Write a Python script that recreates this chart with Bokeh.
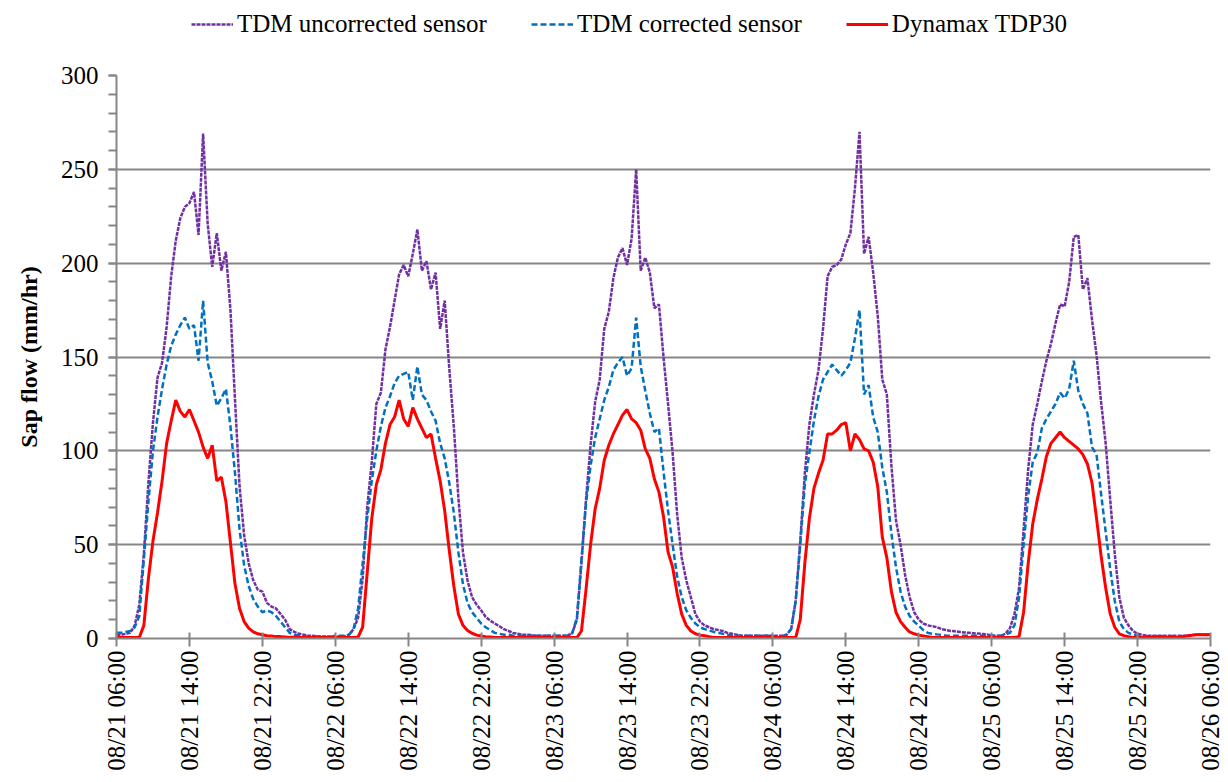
import numpy as np
from bokeh.plotting import figure
from bokeh.layouts import column
from bokeh.models import Range1d, FixedTicker, SingleIntervalTicker, Legend, LegendItem
from bokeh.embed import file_html
from bokeh.resources import INLINE

# Half-hourly samples, hours elapsed since 08/21 06:00 (five days)
hours = np.arange(0, 120.5, 0.5)

# Sap flow (mm/hr), one line per day starting at 06:00, plus the closing sample
tdm_uncorrected = (
    [2, 2, 2.5, 3, 7, 18, 45, 83, 115, 139, 147, 166, 193, 212, 224, 230, 232, 238, 215, 269, 221, 198, 216, 196,
     206, 175, 127, 81, 55, 40, 31, 26, 25, 19, 17, 16, 13, 10, 5, 3.5, 2.5, 2, 1.5, 1.5, 1.2, 1, 1, 1]
    + [1, 1, 1, 2, 5, 11, 32, 70, 94, 125, 131, 154, 166, 180, 194, 199, 193, 205, 218, 196, 201, 186, 195, 165,
       180, 144, 113, 75, 46, 31, 22, 18, 15, 11.5, 9.5, 8, 6.5, 5, 4, 3, 2.5, 2, 2, 1.8, 1.5, 1.5, 1.5, 1.5]
    + [1.5, 1.5, 1.5, 1.5, 3, 10, 40, 74, 103, 126, 138, 165, 174, 192, 203, 208, 199, 213, 250, 196, 203, 195, 176, 178,
       150, 125, 99, 66, 43, 31, 22, 13, 9, 7, 6, 5, 4.5, 4, 3, 2.5, 2, 1.5, 1.5, 1.5, 1.5, 1.5, 1.5, 1.5]
    + [1.5, 1.5, 1.5, 2, 5, 20, 52, 88, 114, 130, 143, 165, 193, 198, 199, 202, 210, 216, 240, 270, 205, 214, 195, 172,
       138, 130, 92, 63, 50, 34, 22, 14, 10, 8, 7, 6.5, 6, 5, 4.5, 4, 3.8, 3.5, 3.2, 3, 2.8, 2.6, 2.4, 2.2]
    + [1.5, 1.5, 1.5, 2.5, 5.5, 13, 27, 58, 90, 114, 125, 137, 148, 157, 168, 178, 177, 190, 214, 215, 186, 192, 170, 151,
       126, 104, 74, 45, 22, 11, 7, 4, 2.5, 2, 1.5, 1.5, 1.5, 1.5, 1.5, 1.5, 1.5, 1.5, 1.5, 1.5, 1.8, 2, 2, 2]
    + [2]
)

tdm_corrected = (
    [3, 3, 3.5, 4, 6, 12, 42, 73, 100, 118, 133, 146, 156, 162, 167, 171, 165, 167, 148, 180, 147, 137, 124, 128,
     133, 113, 88, 58, 39, 28, 21, 17, 14, 15, 14, 12, 9, 6, 3, 2, 1.5, 1.2, 1, 1, 1, 0.8, 0.8, 0.8]
    + [1.5, 1.5, 1.5, 2, 5, 16, 40, 64, 84, 100, 113, 123, 129, 136, 140, 141, 142, 127, 145, 130, 127, 121, 116, 104,
       96, 83, 67, 46, 29, 19, 14, 11, 8, 6, 4.5, 3, 2.5, 2, 2, 1.5, 1.5, 1.5, 1.5, 1.5, 1.5, 1.5, 1.5, 1.5]
    + [1.5, 1.5, 1.5, 1.5, 3, 11, 42, 72, 92, 107, 117, 127, 134, 143, 147, 150, 140, 144, 171, 145, 132, 120, 110, 112,
       89, 68, 50, 33, 22, 15, 11, 8, 6, 5, 4.3, 3.5, 3, 2.5, 2, 1.5, 1.5, 1.5, 1.5, 1.5, 1.5, 1.5, 1.5, 1.5]
    + [1.2, 1.2, 1.2, 2, 5, 20, 50, 82, 99, 116, 129, 138, 142, 146, 143, 140, 143, 147, 160, 175, 130, 135, 118, 110,
       91, 78, 56, 38, 25, 17, 12, 9, 6.8, 4.5, 3, 2.5, 2.2, 2, 1.5, 1.5, 1.5, 1.5, 1.5, 1.5, 1.5, 1.5, 1.5, 1.5]
    + [1.5, 1.5, 1.5, 2, 3, 7, 22, 50, 76, 94, 99, 112, 117, 121, 125, 131, 128, 133, 148, 132, 125, 120, 102, 98,
       77, 57, 37, 20, 9, 5, 3, 2, 1.5, 1.2, 1.2, 1.2, 1.2, 1.2, 1.2, 1.2, 1.2, 1.2, 1.2, 1.2, 1.8, 2, 2, 2]
    + [2]
)

dynamax_tdp30 = (
    [0.5, 0.5, 0.5, 0.5, 0.5, 0.5, 7, 32, 52, 67, 84, 104, 116, 127, 121, 118, 122, 116, 110, 102, 96, 103, 84, 86,
     73, 51, 29, 16, 9, 5.5, 3.5, 2.5, 2, 1.5, 1.3, 1, 1, 0.8, 0.6, 0.6, 0.5, 0.5, 0.5, 0.5, 0.5, 0.5, 0.5, 0.5]
    + [0.5, 0.5, 0.5, 0.5, 0.5, 0.8, 6, 35, 64, 82, 90, 104, 114, 118, 127, 117, 113, 123, 117, 112, 107, 109, 96, 84,
       68, 47, 28, 13, 7, 4.3, 2.8, 1.8, 1.3, 1, 0.8, 0.5, 0.5, 0.5, 0.5, 0.5, 0.5, 0.5, 0.5, 0.5, 0.5, 0.5, 0.5, 0.5]
    + [0.5, 0.5, 0.5, 0.5, 0.5, 0.5, 4, 26, 50, 69, 80, 95, 103, 109, 114, 119, 122, 117, 115, 111, 101, 96, 85, 78,
       65, 46, 38, 24, 13, 7, 4, 2.5, 1.8, 1.5, 1, 0.5, 0.5, 0.5, 0.5, 0.5, 0.5, 0.5, 0.5, 0.5, 0.5, 0.5, 0.5, 0.5]
    + [0.5, 0.5, 0.5, 0.5, 0.5, 0.5, 10, 40, 64, 80, 88, 95, 109, 109, 111, 114, 115, 100, 109, 106, 101, 100, 94, 81,
       54, 43, 25, 14, 9, 6, 3.5, 2.5, 1.8, 1.4, 1, 0.5, 0.5, 0.5, 0.5, 0.5, 0.5, 0.5, 0.5, 0.5, 0.5, 0.5, 0.5, 0.5]
    + [0.5, 0.5, 0.5, 0.5, 0.5, 0.5, 1, 14, 40, 61, 74, 85, 97, 104, 107, 110, 107, 105, 103, 101, 98, 93, 83, 64,
       44, 27, 13, 6, 2.5, 1.5, 1, 0.5, 0.5, 0.5, 0.5, 0.5, 0.5, 0.5, 0.5, 0.5, 0.5, 0.5, 1, 1.5, 1.8, 2, 2, 2]
    + [2]
)

series_names = ["TDM uncorrected sensor", "TDM corrected sensor", "Dynamax TDP30"]

tick_hours = list(range(0, 121, 8))
tick_labels = [
    "08/21 06:00", "08/21 14:00", "08/21 22:00",
    "08/22 06:00", "08/22 14:00", "08/22 22:00",
    "08/23 06:00", "08/23 14:00", "08/23 22:00",
    "08/24 06:00", "08/24 14:00", "08/24 22:00",
    "08/25 06:00", "08/25 14:00", "08/25 22:00",
    "08/26 06:00",
]

FONT = "Liberation Serif"
GREY = "#868686"
STYLES = [
    dict(line_color="#7030A0", line_width=2.5, line_dash="4 1"),
    dict(line_color="#0070C0", line_width=2.5, line_dash="6 3"),
    dict(line_color="#FF0000", line_width=3),
]
SERIES = [tdm_uncorrected, tdm_corrected, dynamax_tdp30]

LEGEND_H = 60

# ---- main chart ----
p = figure(width=1228, height=782 - LEGEND_H, output_backend="svg", toolbar_location=None,
           x_range=Range1d(0, 120), y_range=Range1d(0, 300),
           min_border_left=116, min_border_right=18, min_border_top=15, min_border_bottom=144)
p.outline_line_color = None
p.background_fill_color = "white"
p.border_fill_color = "white"

# x axis: one tick every 8 hours, vertical date/time labels
p.xaxis.ticker = FixedTicker(ticks=tick_hours)
p.xaxis.major_label_overrides = {h: lab for h, lab in zip(tick_hours, tick_labels)}
p.xaxis.major_label_orientation = np.pi / 2
p.xaxis.major_label_text_font = FONT
p.xaxis.major_label_text_font_size = "25px"
p.xaxis.major_label_text_color = "black"
p.xaxis.major_label_standoff = 4
p.xaxis.axis_line_color = GREY
p.xaxis.axis_line_width = 2
p.xaxis.major_tick_line_color = GREY
p.xaxis.major_tick_line_width = 2
p.xaxis.major_tick_in = 6
p.xaxis.major_tick_out = 8
p.xaxis.minor_tick_line_color = None

# y axis
p.yaxis.ticker = SingleIntervalTicker(interval=50, num_minor_ticks=5)
p.yaxis.major_label_text_font = FONT
p.yaxis.major_label_text_font_size = "25px"
p.yaxis.major_label_text_color = "black"
p.yaxis.major_label_standoff = 10
p.yaxis.axis_line_color = GREY
p.yaxis.axis_line_width = 2
p.yaxis.major_tick_line_color = GREY
p.yaxis.major_tick_line_width = 2
p.yaxis.major_tick_in = 0
p.yaxis.major_tick_out = 8
p.yaxis.minor_tick_line_color = GREY
p.yaxis.minor_tick_line_width = 2
p.yaxis.minor_tick_in = 0
p.yaxis.minor_tick_out = 8
p.yaxis.axis_label = "Sap flow (mm/hr)"
p.yaxis.axis_label_text_font = FONT
p.yaxis.axis_label_text_font_style = "bold"
p.yaxis.axis_label_text_font_size = "24px"
p.yaxis.axis_label_text_color = "black"
p.yaxis.axis_label_standoff = 16

p.xgrid.visible = False
p.ygrid.grid_line_color = GREY
p.ygrid.grid_line_width = 2

for values, style in zip(SERIES, STYLES):
    p.line(hours, values, **style)

# ---- legend band above the chart ----
# The same series are drawn here with a view range that excludes them, so only the keys show.
key = figure(width=1228, height=LEGEND_H, output_backend="svg", toolbar_location=None,
             x_range=Range1d(-20, -10), y_range=Range1d(-20, -10), x_axis_type=None, y_axis_type=None,
             min_border=0)
key.outline_line_color = None
key.grid.visible = False
key_items = []
for name, values, style in zip(series_names, SERIES, STYLES):
    r = key.line(hours, values, **style)
    key_items.append(LegendItem(label=name, renderers=[r]))

legend = Legend(
    items=key_items,
    orientation="horizontal",
    location=(75, 22),
    label_text_font=FONT,
    label_text_font_size="25px",
    label_text_color="black",
    glyph_width=42,
    glyph_height=28,
    label_height=28,
    label_standoff=4,
    spacing=44,
    padding=0,
    margin=0,
    border_line_color=None,
    background_fill_alpha=0,
)
key.add_layout(legend)

layout = column(key, p, spacing=0)
open("out.html", "w").write(file_html(layout, INLINE))
